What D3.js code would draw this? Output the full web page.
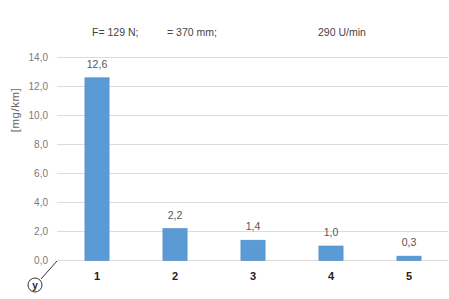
<!DOCTYPE html>
<html>
<head>
<meta charset="utf-8">
<script src="https://cdn.jsdelivr.net/npm/d3@7"></script>
<style>
  body { margin: 0; background: #fff; }
  text { font-family: "Liberation Sans", Arial, sans-serif; }
</style>
</head>
<body>
<div id="chart"></div>
<script>
// chart data
var categories = ["1", "2", "3", "4", "5"];
var values = [12.6, 2.2, 1.4, 1.0, 0.3];
var yTicks = [0, 2, 4, 6, 8, 10, 12, 14];
var headerTexts = ["F= 129 N;", "= 370 mm;", "290 U/min"];

var W = 449, H = 299;

var svg = d3.select("#chart")
    .append("svg")
    .attr("width", W)
    .attr("height", H);

var fmt = function(v) { return d3.format(".1f")(v).replace(".", ","); };

// scales
var x = d3.scaleBand()
    .domain(categories)
    .range([58, 448])
    .paddingInner(0.69)
    .paddingOuter(0.345);

var y = d3.scaleLinear()
    .domain([0, 14])
    .range([260.5, 57.5]);

// gridlines
svg.append("g")
    .selectAll("line")
    .data(yTicks)
    .enter()
    .append("line")
    .attr("x1", 57)
    .attr("x2", 448)
    .attr("y1", function(d) { return y(d); })
    .attr("y2", function(d) { return y(d); })
    .attr("stroke", "#dcdcdc")
    .attr("stroke-width", 1.2);

// y axis labels
var yAxis = svg.append("g")
    .attr("transform", "translate(48,0)")
    .call(d3.axisLeft(y).tickValues(yTicks).tickFormat(fmt).tickSize(0).tickPadding(0));
yAxis.select(".domain").remove();
yAxis.selectAll("text")
    .attr("fill", "#7a7a7a")
    .style("font-size", "10px");

// x axis labels
var xAxis = svg.append("g")
    .attr("transform", "translate(0,272)")
    .call(d3.axisBottom(x).tickSize(0).tickPadding(0));
xAxis.select(".domain").remove();
xAxis.selectAll("text")
    .attr("fill", "#222")
    .style("font-size", "11px")
    .style("font-weight", "bold");

// bars
svg.selectAll(".bar")
    .data(values)
    .enter()
    .append("rect")
    .attr("class", "bar")
    .attr("x", function(d, i) { return x(categories[i]); })
    .attr("y", function(d) { return y(d); })
    .attr("width", x.bandwidth())
    .attr("height", function(d) { return y(0) - y(d); })
    .attr("fill", "#5b9bd5")
    .attr("stroke", "#4a8ac6")
    .attr("stroke-width", 0.6);

// value labels
svg.selectAll(".val")
    .data(values)
    .enter()
    .append("text")
    .attr("class", "val")
    .attr("x", function(d, i) { return x(categories[i]) + x.bandwidth() / 2; })
    .attr("y", function(d) { return y(d) - 10; })
    .attr("text-anchor", "middle")
    .attr("fill", "#555")
    .style("font-size", "10.5px")
    .text(fmt);

// header
var headerX = [92, 167, 318];
svg.selectAll(".hdr")
    .data(headerTexts)
    .enter()
    .append("text")
    .attr("class", "hdr")
    .attr("x", function(d, i) { return headerX[i]; })
    .attr("y", 36)
    .attr("fill", "#444")
    .style("font-size", "10.5px")
    .text(function(d) { return d; });

// y axis title
svg.append("text")
    .attr("transform", "translate(19,110) rotate(-90)")
    .attr("text-anchor", "middle")
    .attr("fill", "#666")
    .style("font-size", "11.5px")
    .style("letter-spacing", "0.5px")
    .text("[mg/km]");

// circled y marker
svg.append("line")
    .attr("x1", 57).attr("y1", 261)
    .attr("x2", 41).attr("y2", 279)
    .attr("stroke", "#333")
    .attr("stroke-width", 1);
svg.append("circle")
    .attr("cx", 35).attr("cy", 285).attr("r", 7)
    .attr("fill", "#fff")
    .attr("stroke", "#333")
    .attr("stroke-width", 1);
svg.append("text")
    .attr("x", 35).attr("y", 288.5)
    .attr("text-anchor", "middle")
    .attr("fill", "#222")
    .style("font-size", "10px")
    .style("font-weight", "bold")
    .text("y");
</script>
</body>
</html>
